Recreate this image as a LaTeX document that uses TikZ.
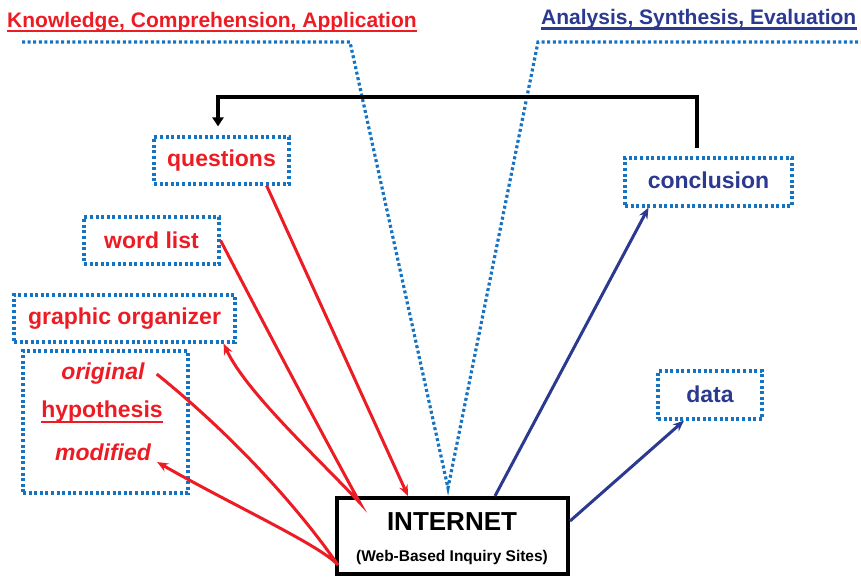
\documentclass[tikz,border=0pt]{standalone}
\usepackage{fontspec}
\setmainfont{Liberation Sans}
\usetikzlibrary{arrows.meta}
\definecolor{kred}{RGB}{237,28,36}
\definecolor{knavy}{RGB}{43,57,144}
\definecolor{kdot}{RGB}{20,115,195}
\begin{document}
\begin{tikzpicture}[x=1pt,y=-1pt,
  dotbox/.style={draw=kdot, line width=3.2pt, dash pattern=on 3pt off 2.6pt, inner sep=0pt,
    font=\bfseries\fontsize{23}{27}\selectfont},
  lbl/.style={inner sep=0pt, font=\bfseries\fontsize{23}{27}\selectfont},
  ttl/.style={inner sep=0pt, anchor=base west, font=\bfseries\fontsize{21}{25}\selectfont},
  redarr/.style={draw=kred, line width=3pt, -{Stealth[length=11pt,width=9pt]}},
  navyarr/.style={draw=knavy, line width=3pt, -{Stealth[length=11pt,width=9pt]}},
  blkarr/.style={draw=black, line width=3.2pt, -{Triangle[length=9pt,width=11pt]}},
  vline/.style={draw=kdot, line width=3.2pt, dash pattern=on 3pt off 2.6pt}]
\useasboundingbox (0,0) rectangle (861,576);

% titles
\node[ttl, text=kred] (kca) at (7,27) {Knowledge, Comprehension, Application};
\draw[kred, line width=2.4pt] ([yshift=-4pt]kca.base west) -- ([yshift=-4pt]kca.base east);
\node[ttl, text=knavy] (ase) at (541,24.5) {Analysis, Synthesis, Evaluation};
\draw[knavy, line width=2.4pt] ([yshift=-4pt]ase.base west) -- ([yshift=-4pt]ase.base east);

% dotted V
\coordinate (vl) at (22,42);
\coordinate (vlc) at (350,42);
\coordinate (vb) at (448,488);
\coordinate (vrc) at (538,42);
\coordinate (vr) at (861,42);
\draw[vline] (vl) -- (vlc) -- (vb) -- (vrc) -- (vr);

% boxes
\node[dotbox, text=kred, minimum width=135pt, minimum height=47pt] (q) at (221.5,160.5) {questions};
\node[dotbox, text=kred, minimum width=135pt, minimum height=47pt] (wl) at (151.5,240.5) {word list};
\node[dotbox, text=kred, minimum width=221pt, minimum height=47pt] (go) at (124.5,318.5) {graphic organizer};
\node[dotbox, minimum width=165pt, minimum height=142pt] (hb) at (105.5,422) {};
\node[lbl, text=kred] (orig) at (103,374) {\itshape original};
\node[lbl, text=kred] (hyp) at (102,412) {hypothesis};
\draw[kred, line width=2.4pt] ([yshift=-4pt]hyp.base west) -- ([yshift=-4pt]hyp.base east);
\node[lbl, text=kred] (mod) at (103,452) {\itshape modified};
\node[dotbox, text=knavy, minimum width=167pt, minimum height=48pt] (con) at (708.5,182) {\raisebox{3pt}{conclusion}};
\node[dotbox, text=knavy, minimum width=104pt, minimum height=48pt] (dat) at (710,395) {\raisebox{2pt}{data}};

% internet
\node[draw=black, line width=4pt, minimum width=231pt, minimum height=76pt, inner sep=0pt] (net) at (452.5,536) {};
\node[inner sep=0pt, font=\bfseries\fontsize{26}{30}\selectfont] (nett) at (452,522) {INTERNET};
\node[inner sep=0pt, font=\bfseries\fontsize{15.5}{18}\selectfont] (netw) at (452,557) {(Web-Based Inquiry Sites)};

% black feedback arrow
\coordinate (topl) at (218,97);
\draw[blkarr] ([xshift=-11.5pt,yshift=8pt]con.north) |- (topl) -- ([xshift=-3.5pt,yshift=9pt]q.north);

% red arrows
\coordinate (v1) at (360,503);
\coordinate (v2) at (338,565);
\draw[redarr] ([xshift=-24pt]q.south east) -- ([xshift=-44.5pt]net.north);
\draw[redarr] (wl.east) .. controls (266,328) and (320,430) .. (v1)
   .. controls (318,458) and (246,392) .. ([xshift=-13pt]go.south east);
\draw[redarr] ([xshift=12pt]orig.east) .. controls (236,438) and (300,510) .. (v2)
   .. controls (320,545) and (232,505) .. ([xshift=6pt,yshift=-10pt]mod.east);

% navy arrows
\draw[navyarr] ([xshift=42.5pt]net.north) -- ([xshift=-60pt]con.south);
\draw[navyarr] ([yshift=15pt]net.east) -- ([xshift=-26pt]dat.south);
\end{tikzpicture}
\end{document}
